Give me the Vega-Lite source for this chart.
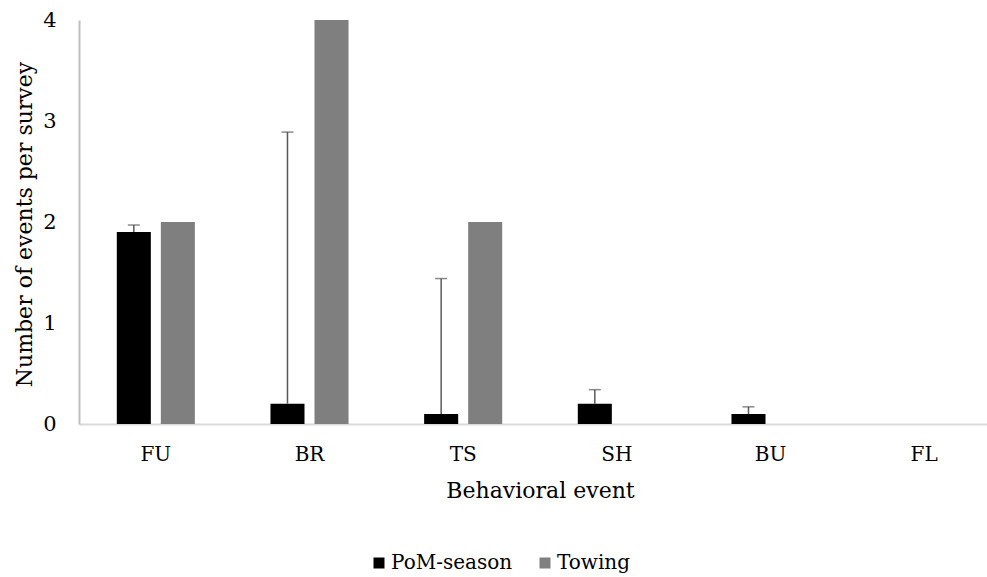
{
  "$schema": "https://vega.github.io/schema/vega-lite/v6.json",
  "autosize": {"type": "none"},
  "width": 908,
  "height": 404,
  "padding": {"left": 79, "top": 20, "right": 0, "bottom": 153},
  "background": "white",
  "config": {
    "view": {"stroke": null},
    "font": "DejaVu Serif",
    "axis": {"labelFont": "DejaVu Serif", "titleFont": "DejaVu Serif", "labelColor": "#000000", "titleColor": "#000000", "titleFontWeight": "normal"},
    "legend": {"labelFont": "DejaVu Serif", "labelColor": "#000000"}
  },
  "data": {
    "values": [
      {"event": "FU", "series": "PoM-season", "value": 1.9, "upper": 1.97},
      {"event": "FU", "series": "Towing", "value": 2.0},
      {"event": "BR", "series": "PoM-season", "value": 0.2, "upper": 2.89},
      {"event": "BR", "series": "Towing", "value": 4.0},
      {"event": "TS", "series": "PoM-season", "value": 0.1, "upper": 1.44},
      {"event": "TS", "series": "Towing", "value": 2.0},
      {"event": "SH", "series": "PoM-season", "value": 0.2, "upper": 0.34},
      {"event": "SH", "series": "Towing", "value": 0.0},
      {"event": "BU", "series": "PoM-season", "value": 0.1, "upper": 0.17},
      {"event": "BU", "series": "Towing", "value": 0.0},
      {"event": "FL", "series": "PoM-season", "value": 0.0},
      {"event": "FL", "series": "Towing", "value": 0.0}
    ]
  },
  "encoding": {
    "x": {
      "field": "event", "type": "nominal", "sort": ["FU", "BR", "TS", "SH", "BU", "FL"],
      "scale": {"range": [0, 922], "paddingInner": 0.492, "paddingOuter": 0.246},
      "axis": {
        "title": "Behavioral event", "labelAngle": 0, "labelFontSize": 20, "titleFontSize": 22,
        "ticks": false, "domainColor": "#d9d9d9", "domainWidth": 2, "labelPadding": 20,
        "titlePadding": 16, "titleX": 461, "titleAnchor": null
      }
    },
    "xOffset": {
      "field": "series", "type": "nominal", "sort": ["PoM-season", "Towing"],
      "scale": {"paddingInner": 0.227, "paddingOuter": 0}
    }
  },
  "layer": [
    {
      "mark": {"type": "bar"},
      "encoding": {
        "y": {
          "field": "value", "type": "quantitative",
          "scale": {"domain": [0, 4], "nice": false},
          "axis": {
            "title": "Number of events per survey", "values": [0, 1, 2, 3, 4], "format": "d", "grid": false, "ticks": false,
            "domainColor": "#bfbfbf", "domainWidth": 2, "labelFontSize": 21, "titleFontSize": 22, "labelPadding": 23,
            "titleX": -55, "titleY": 204, "titleAngle": -90, "titleAlign": "center", "titleBaseline": "middle", "titleAnchor": null
          }
        },
        "color": {
          "field": "series", "type": "nominal", "sort": ["PoM-season", "Towing"],
          "scale": {"domain": ["PoM-season", "Towing"], "range": ["#000000", "#7f7f7f"]},
          "legend": {
            "title": null, "orient": "none", "direction": "horizontal", "legendX": 290, "legendY": 533,
            "symbolType": "square", "symbolSize": 121, "symbolStrokeWidth": 0, "labelFontSize": 20,
            "columnPadding": 22, "labelOffset": 2
          }
        }
      }
    },
    {
      "transform": [{"filter": "isValid(datum.upper)"}],
      "mark": {"type": "rule", "color": "#595959", "strokeWidth": 1.5},
      "encoding": {
        "y": {"field": "value", "type": "quantitative"},
        "y2": {"field": "upper"}
      }
    },
    {
      "transform": [{"filter": "isValid(datum.upper)"}],
      "mark": {"type": "tick", "color": "#595959", "thickness": 1.5, "size": 12, "orient": "horizontal"},
      "encoding": {
        "y": {"field": "upper", "type": "quantitative"}
      }
    }
  ]
}
